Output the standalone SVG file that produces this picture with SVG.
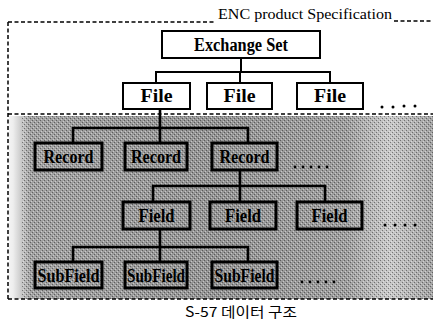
<svg xmlns="http://www.w3.org/2000/svg" width="433" height="330" viewBox="0 0 433 330">
<defs>
  <linearGradient id="shade" x1="0" y1="0" x2="433" y2="0" gradientUnits="userSpaceOnUse">
    <stop offset="0" stop-color="#ffffff"/>
    <stop offset="0.03" stop-color="#eeeeee"/>
    <stop offset="0.07" stop-color="#a2a2a2"/>
    <stop offset="0.5" stop-color="#949494"/>
    <stop offset="0.8" stop-color="#9e9e9e"/>
    <stop offset="0.9" stop-color="#cacaca"/>
    <stop offset="1" stop-color="#a2a2a2"/>
  </linearGradient>
  <pattern id="dither" width="4" height="4" patternUnits="userSpaceOnUse">
    <rect x="0" y="0" width="1" height="1" fill="#000" opacity="0.4"/>
    <rect x="2" y="2" width="1" height="1" fill="#000" opacity="0.4"/>
    <rect x="1" y="3" width="1" height="1" fill="#fff" opacity="0.45"/>
    <rect x="3" y="1" width="1" height="1" fill="#fff" opacity="0.45"/>
  </pattern>
  <style>
    .dash { stroke:#000; stroke-width:1.5; stroke-dasharray:4 2.5; fill:none; }
    .wbox { fill:#fff; stroke:#000; stroke-width:2; }
    .gbox { fill:none; stroke:#000; stroke-width:3; }
    .lbl { font-family:"Liberation Serif","Times New Roman",serif; font-weight:bold; font-size:18px; text-anchor:middle; fill:#000; }
    .conn { stroke:#000; stroke-width:2; fill:none; }
    .conn2 { stroke:#000; stroke-width:2.6; fill:none; }
    .dot { fill:#000; }
  </style>
</defs>

<!-- shaded lower region -->
<rect x="9" y="116" width="424" height="183" fill="url(#shade)"/>
<rect x="22" y="116" width="411" height="183" fill="url(#dither)"/>

<!-- outer frame -->
<g id="frame">
  <line class="dash" x1="8" y1="22" x2="216" y2="22"/>
  <line class="dash" x1="394" y1="21" x2="433" y2="21" stroke-dasharray="2.5 3"/>
  <line class="dash" x1="8" y1="22" x2="8" y2="299"/>
  <line class="dash" x1="8" y1="114" x2="433" y2="114"/>
  <line class="dash" x1="8" y1="299" x2="433" y2="299"/>
  <text x="218" y="19" font-family="'Liberation Serif','Times New Roman',serif" font-size="15" textLength="174" lengthAdjust="spacingAndGlyphs">ENC product Specification</text>
</g>

<!-- connectors -->
<g id="connectors">
  <path class="conn" d="M241 58 V72 M156 83 V72 H330 V83 M240 72 V83"/>
  <path class="conn2" d="M160 109 V128 M73 143 V128 H248 V143 M160 128 V143"/>
  <path class="conn2" d="M240 170 V186 M153 202 V186 H325 V202 M240 186 V202"/>
  <path class="conn2" d="M160 229 V247 M73 262 V247 H248 V262 M160 247 V262"/>
</g>

<g id="exchange-set">
  <rect class="wbox" x="162" y="31" width="158" height="27"/>
  <text class="lbl" x="241" y="51" textLength="94" lengthAdjust="spacingAndGlyphs">Exchange Set</text>
</g>

<g id="file1">
  <rect class="wbox" x="123" y="83" width="67" height="26"/>
  <text class="lbl" x="156.5" y="102" textLength="32" lengthAdjust="spacingAndGlyphs">File</text>
</g>
<g id="file2">
  <rect class="wbox" x="207" y="83" width="65" height="26"/>
  <text class="lbl" x="239.5" y="102" textLength="32" lengthAdjust="spacingAndGlyphs">File</text>
</g>
<g id="file3">
  <rect class="wbox" x="297" y="83" width="66" height="26"/>
  <text class="lbl" x="330" y="102" textLength="32" lengthAdjust="spacingAndGlyphs">File</text>
</g>
<g id="file-more">
  <circle class="dot" cx="382" cy="107" r="1.5"/>
  <circle class="dot" cx="393" cy="107" r="1.5"/>
  <circle class="dot" cx="404" cy="106" r="1.5"/>
  <circle class="dot" cx="415" cy="106" r="1.5"/>
</g>

<g id="record1">
  <rect class="gbox" x="35" y="143" width="67" height="27"/>
  <text class="lbl" x="68.5" y="163" textLength="50" lengthAdjust="spacingAndGlyphs">Record</text>
</g>
<g id="record2">
  <rect class="gbox" x="125" y="143" width="62" height="27"/>
  <text class="lbl" x="156" y="163" textLength="50" lengthAdjust="spacingAndGlyphs">Record</text>
</g>
<g id="record3">
  <rect class="gbox" x="212" y="143" width="65" height="27"/>
  <text class="lbl" x="244.5" y="163" textLength="50" lengthAdjust="spacingAndGlyphs">Record</text>
</g>
<g id="record-more">
  <circle class="dot" cx="295" cy="167" r="1.4"/>
  <circle class="dot" cx="303" cy="167" r="1.4"/>
  <circle class="dot" cx="311" cy="167" r="1.4"/>
  <circle class="dot" cx="319" cy="167" r="1.4"/>
  <circle class="dot" cx="327" cy="167" r="1.4"/>
</g>

<g id="field1">
  <rect class="gbox" x="123" y="202" width="67" height="27"/>
  <text class="lbl" x="156.5" y="222" textLength="36" lengthAdjust="spacingAndGlyphs">Field</text>
</g>
<g id="field2">
  <rect class="gbox" x="210" y="202" width="66" height="27"/>
  <text class="lbl" x="243" y="222" textLength="36" lengthAdjust="spacingAndGlyphs">Field</text>
</g>
<g id="field3">
  <rect class="gbox" x="297" y="202" width="65" height="27"/>
  <text class="lbl" x="329.5" y="222" textLength="36" lengthAdjust="spacingAndGlyphs">Field</text>
</g>
<g id="field-more">
  <circle class="dot" cx="385" cy="225" r="1.5"/>
  <circle class="dot" cx="395" cy="225" r="1.5"/>
  <circle class="dot" cx="405" cy="225" r="1.5"/>
  <circle class="dot" cx="415" cy="225" r="1.5"/>
</g>

<g id="subfield1">
  <rect class="gbox" x="35" y="262" width="67" height="26"/>
  <text class="lbl" x="68.5" y="281.5" textLength="62" lengthAdjust="spacingAndGlyphs">SubField</text>
</g>
<g id="subfield2">
  <rect class="gbox" x="125" y="262" width="62" height="26"/>
  <text class="lbl" x="156" y="281.5" textLength="58" lengthAdjust="spacingAndGlyphs">SubField</text>
</g>
<g id="subfield3">
  <rect class="gbox" x="212" y="262" width="65" height="26"/>
  <text class="lbl" x="244.5" y="281.5" textLength="60" lengthAdjust="spacingAndGlyphs">SubField</text>
</g>
<g id="subfield-more">
  <circle class="dot" cx="302" cy="282" r="1.4"/>
  <circle class="dot" cx="310" cy="282" r="1.4"/>
  <circle class="dot" cx="318" cy="282" r="1.4"/>
  <circle class="dot" cx="326" cy="282" r="1.4"/>
  <circle class="dot" cx="334" cy="282" r="1.4"/>
</g>

<text x="185" y="317" font-family="'Noto Sans CJK KR','Noto Sans',sans-serif" font-size="14" textLength="112" lengthAdjust="spacingAndGlyphs" fill="#000">S-57 데이터 구조</text>
</svg>
